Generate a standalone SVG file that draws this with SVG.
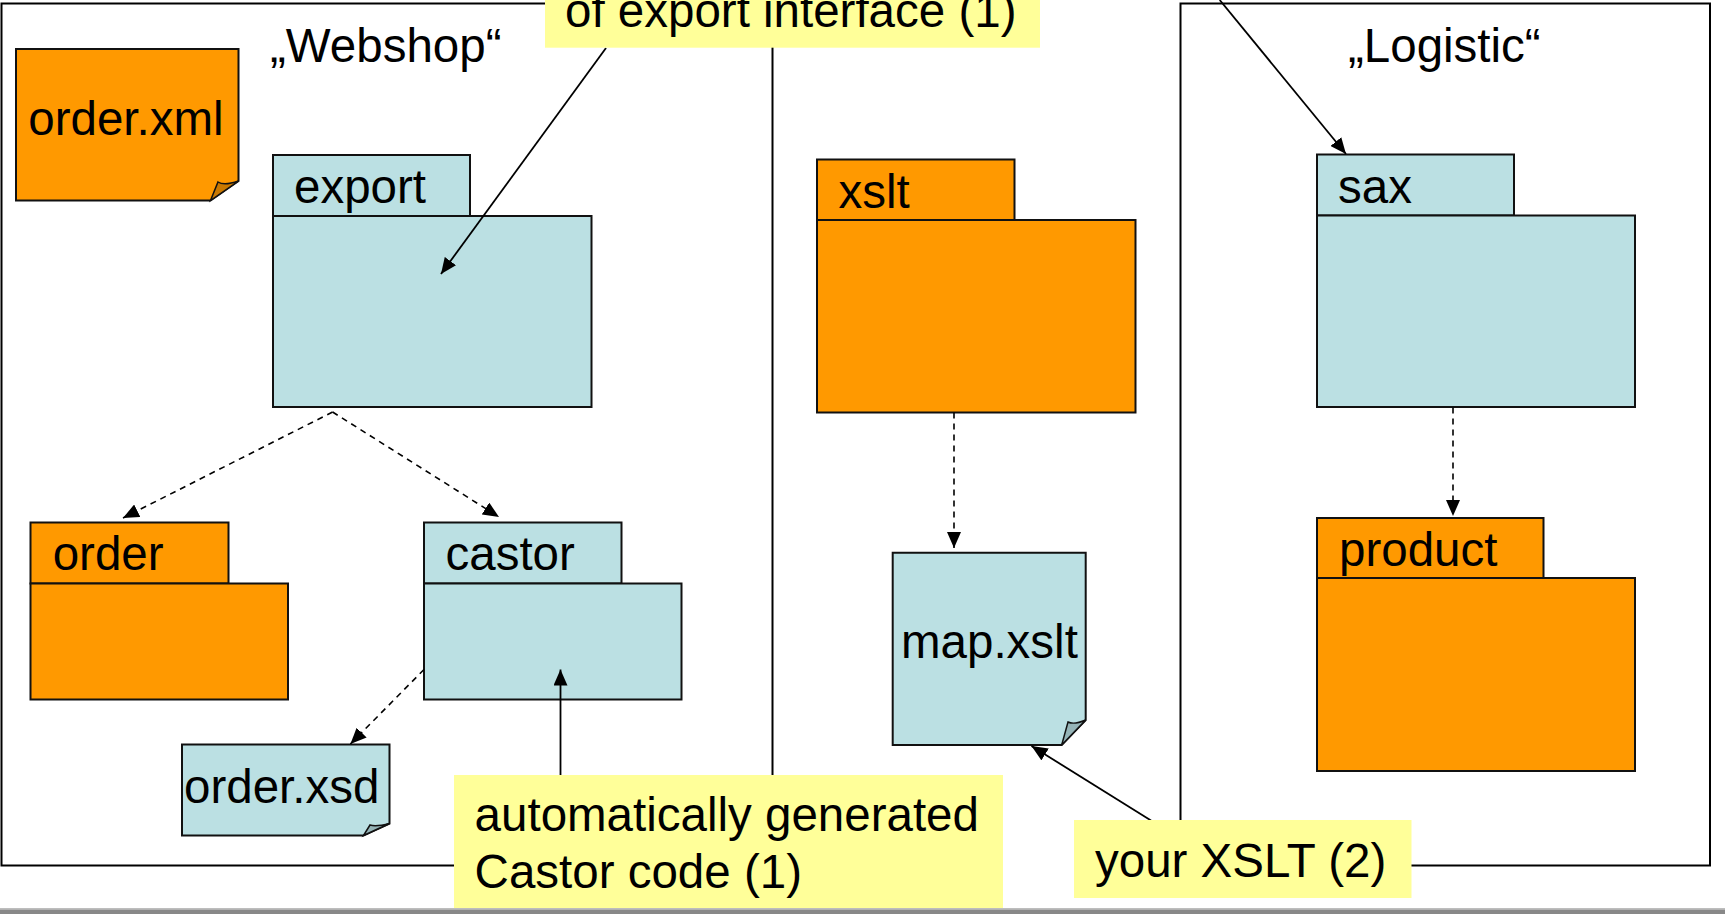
<svg xmlns="http://www.w3.org/2000/svg" width="1725" height="914" viewBox="0 0 1725 914">
<defs>
<style>
text{font-family:"Liberation Sans",Arial,sans-serif;font-size:47.5px;fill:#000}
.frame{fill:none;stroke:#000;stroke-width:2}
.or{fill:#FF9900;stroke:#111;stroke-width:2}
.bl{fill:#BBE0E3;stroke:#111;stroke-width:2}
.fo{fill:#C97800;stroke:#111;stroke-width:1.5}
.fb{fill:#95B4B7;stroke:#111;stroke-width:1.5}
.note{fill:#FFFF99;stroke:none}
.dash{fill:none;stroke:#000;stroke-width:1.6;stroke-dasharray:6 5;marker-end:url(#ah)}
.sol{fill:none;stroke:#000;stroke-width:1.8;marker-end:url(#ah)}
</style>
<marker id="ah" viewBox="0 0 16 14" refX="16" refY="7" markerWidth="16" markerHeight="14" orient="auto" markerUnits="userSpaceOnUse"><path d="M0,0 L16,7 L0,14 z" fill="#000"/></marker>
</defs>
<rect x="0" y="0" width="1725" height="914" fill="#fff"/>
<g id="frames">
<rect id="webshop" class="frame" x="1.5" y="3.5" width="771" height="862"/>
<rect id="logistic" class="frame" x="1180.5" y="3.5" width="529.5" height="862"/>
<text x="270" y="62">„Webshop“</text>
<text x="1348" y="62">„Logistic“</text>
</g>
<g id="order-xml">
<path class="or" d="M16,49 H238.5 V181 L210.5,200.5 H16 Z"/>
<path class="fo" d="M210.5,200.5 L218,182 Q224,186 238.5,181 Z"/>
<text x="28.3" y="135">order.xml</text>
</g>
<g id="export">
<rect class="bl" x="273" y="155" width="197" height="61"/>
<rect class="bl" x="273" y="216" width="318.5" height="191"/>
<text x="294" y="203">export</text>
</g>
<g id="order">
<rect class="or" x="30.5" y="522.5" width="198" height="61"/>
<rect class="or" x="30.5" y="583.5" width="257.5" height="116"/>
<text x="52.7" y="570">order</text>
</g>
<g id="castor">
<rect class="bl" x="424" y="522.5" width="197.5" height="61"/>
<rect class="bl" x="424" y="583.5" width="257.5" height="116"/>
<text x="445.5" y="570">castor</text>
</g>
<g id="order-xsd">
<path class="bl" d="M182,744.5 H389.5 V823.5 L363.5,835.5 H182 Z"/>
<path class="fb" d="M363.5,835.5 L370,825 Q376,827 389.5,823.5 Z"/>
<text x="184" y="803">order.xsd</text>
</g>
<g id="xslt">
<rect class="or" x="817" y="159.5" width="197.5" height="60.5"/>
<rect class="or" x="817" y="220" width="318.5" height="192.5"/>
<text x="838.4" y="207.5">xslt</text>
</g>
<g id="map-xslt">
<path class="bl" d="M892.7,552.7 H1085.7 V720 L1061.7,745 H892.7 Z"/>
<path class="fb" d="M1061.7,745 L1068,722 Q1074,725 1085.7,720 Z"/>
<text x="901" y="658">map.xslt</text>
</g>
<g id="sax">
<rect class="bl" x="1317" y="154.5" width="197" height="61"/>
<rect class="bl" x="1317" y="215.5" width="318" height="191.5"/>
<text x="1338" y="203">sax</text>
</g>
<g id="product">
<rect class="or" x="1317" y="518" width="226.5" height="60"/>
<rect class="or" x="1317" y="578" width="318" height="193"/>
<text x="1339" y="566">product</text>
</g>
<g id="connectors">
<path class="dash" d="M332.6,412 L123,518"/>
<path class="dash" d="M332.6,412 L499,517"/>
<path class="dash" d="M424,669.5 L350.4,744"/>
<path class="dash" d="M954,412.5 L954,548"/>
<path class="dash" d="M1453,407.5 L1453,516"/>
<path class="sol" d="M606,48 L441,274"/>
<path class="sol" d="M1219.7,0 L1346,154"/>
<path class="sol" d="M560.5,775 L560.5,669.5"/>
<path class="sol" d="M1151,820.5 L1031.5,746"/>
</g>
<g id="note-export">
<rect class="note" x="545" y="0" width="495" height="47.7"/>
<text x="565" y="27">of export interface (1)</text>
</g>
<g id="note-castor">
<rect class="note" x="454" y="775" width="549" height="134"/>
<text x="474.6" y="831">automatically generated</text>
<text x="474.6" y="887.5">Castor code (1)</text>
</g>
<g id="note-xslt">
<rect class="note" x="1074" y="820" width="337.5" height="78"/>
<text x="1095" y="877">your XSLT (2)</text>
</g>
<g id="bottom-bar">
<rect x="0" y="908" width="1725" height="1.5" fill="#BDBDBD"/>
<rect x="0" y="909.5" width="1725" height="4.5" fill="#888888"/>
</g>
</svg>
